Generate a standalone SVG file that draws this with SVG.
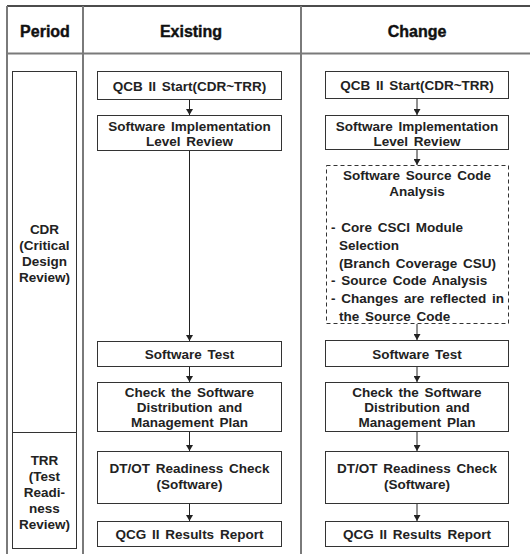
<svg xmlns="http://www.w3.org/2000/svg" width="530" height="554" viewBox="0 0 530 554">
<defs>
<style>
.grid{stroke:#7a7a7a;stroke-width:2;fill:none}
.box{fill:#fff;stroke:#333;stroke-width:1}
.dash{fill:#fff;stroke:#333;stroke-width:1;stroke-dasharray:4,3}
.hd{font-family:"Liberation Sans",Arial,sans-serif;font-weight:bold;font-size:16px;fill:#111;text-anchor:middle;stroke:#111;stroke-width:0.4}
.t{font-family:"Liberation Sans",Arial,sans-serif;font-weight:bold;font-size:13.5px;fill:#222;text-anchor:middle;word-spacing:2px}
.tl{font-family:"Liberation Sans",Arial,sans-serif;font-weight:bold;font-size:13.5px;fill:#222;word-spacing:2px}
.arr{stroke:#222;stroke-width:1;fill:none;marker-end:url(#ah)}
</style>
<marker id="ah" markerUnits="userSpaceOnUse" markerWidth="7" markerHeight="7" refX="6" refY="3.5" orient="auto">
<path d="M0,0 L6,3.5 L0,7 z" fill="#222"/>
</marker>
</defs>
<rect width="530" height="554" fill="#fff"/>
<g id="table">
<line x1="7" y1="6" x2="530" y2="6" stroke="#111" stroke-width="1.5"/>
<line class="grid" x1="7" y1="53.5" x2="530" y2="53.5"/>
<line class="grid" x1="7" y1="6" x2="7" y2="554"/>
<line class="grid" x1="83" y1="6" x2="83" y2="554"/>
<line class="grid" x1="301" y1="6" x2="301" y2="554"/>
<text class="hd" x="45" y="37">Period</text>
<text class="hd" x="191" y="37">Existing</text>
<text class="hd" x="417" y="37">Change</text>
</g>
<g id="period-cdr">
<rect class="box" x="12.5" y="71.5" width="64" height="361"/>
<text class="t" x="44.5" y="234">CDR</text>
<text class="t" x="44.5" y="250">(Critical</text>
<text class="t" x="44.5" y="266">Design</text>
<text class="t" x="44.5" y="282">Review)</text>
</g>
<g id="period-trr">
<rect class="box" x="12.5" y="432.5" width="64" height="116"/>
<text class="t" x="44.5" y="465">TRR</text>
<text class="t" x="44.5" y="481">(Test</text>
<text class="t" x="44.5" y="497">Readi-</text>
<text class="t" x="44.5" y="513">ness</text>
<text class="t" x="44.5" y="529">Review)</text>
</g>
<g id="connectors">
<line class="arr" x1="189.5" y1="100" x2="189.5" y2="115"/>
<line class="arr" x1="189.5" y1="151" x2="189.5" y2="341"/>
<line class="arr" x1="189.5" y1="367" x2="189.5" y2="382"/>
<line class="arr" x1="189.5" y1="432" x2="189.5" y2="451"/>
<line class="arr" x1="189.5" y1="504" x2="189.5" y2="521"/>
<line class="arr" x1="417" y1="99" x2="417" y2="115"/>
<line class="arr" x1="417" y1="150" x2="417" y2="165"/>
<line class="arr" x1="417" y1="324" x2="417" y2="340"/>
<line class="arr" x1="417" y1="367" x2="417" y2="382"/>
<line class="arr" x1="417" y1="432" x2="417" y2="451"/>
<line class="arr" x1="417" y1="504" x2="417" y2="521"/>
</g>
<g id="ex-qcb">
<rect class="box" x="97.5" y="71.5" width="184" height="28"/>
<text class="t" x="189.5" y="91">QCB II Start(CDR~TRR)</text>
</g>
<g id="ex-impl">
<rect class="box" x="97.5" y="115.5" width="184" height="35"/>
<text class="t" x="189.5" y="131">Software Implementation</text>
<text class="t" x="189.5" y="146">Level Review</text>
</g>
<g id="ex-test">
<rect class="box" x="97.5" y="341.5" width="184" height="25"/>
<text class="t" x="189.5" y="359">Software Test</text>
</g>
<g id="ex-check">
<rect class="box" x="97.5" y="382.5" width="184" height="49"/>
<text class="t" x="189.5" y="397">Check the Software</text>
<text class="t" x="189.5" y="412">Distribution and</text>
<text class="t" x="189.5" y="427">Management Plan</text>
</g>
<g id="ex-dtot">
<rect class="box" x="97.5" y="451.5" width="184" height="52"/>
<text class="t" x="189.5" y="473">DT/OT Readiness Check</text>
<text class="t" x="189.5" y="489">(Software)</text>
</g>
<g id="ex-qcg">
<rect class="box" x="97.5" y="521.5" width="184" height="25"/>
<text class="t" x="189.5" y="539">QCG II Results Report</text>
</g>
<g id="ch-qcb">
<rect class="box" x="325.5" y="71.5" width="183" height="27"/>
<text class="t" x="417" y="90">QCB II Start(CDR~TRR)</text>
</g>
<g id="ch-impl">
<rect class="box" x="325.5" y="115.5" width="183" height="34"/>
<text class="t" x="417" y="131">Software Implementation</text>
<text class="t" x="417" y="146">Level Review</text>
</g>
<g id="ch-source">
<rect class="dash" x="326.5" y="165.5" width="182" height="158"/>
<text class="t" x="417" y="180">Software Source Code</text>
<text class="t" x="417" y="196">Analysis</text>
<text class="tl" x="331" y="232">- Core CSCI Module</text>
<text class="tl" x="339" y="250">Selection</text>
<text class="tl" x="339" y="268">(Branch Coverage CSU)</text>
<text class="tl" x="331" y="285">- Source Code Analysis</text>
<text class="tl" x="331" y="303">- Changes are reflected in</text>
<text class="tl" x="339" y="321">the Source Code</text>
</g>
<g id="ch-test">
<rect class="box" x="325.5" y="340.5" width="183" height="26"/>
<text class="t" x="417" y="359">Software Test</text>
</g>
<g id="ch-check">
<rect class="box" x="325.5" y="382.5" width="183" height="49"/>
<text class="t" x="417" y="397">Check the Software</text>
<text class="t" x="417" y="412">Distribution and</text>
<text class="t" x="417" y="427">Management Plan</text>
</g>
<g id="ch-dtot">
<rect class="box" x="325.5" y="451.5" width="183" height="52"/>
<text class="t" x="417" y="473">DT/OT Readiness Check</text>
<text class="t" x="417" y="489">(Software)</text>
</g>
<g id="ch-qcg">
<rect class="box" x="325.5" y="521.5" width="183" height="25"/>
<text class="t" x="417" y="539">QCG II Results Report</text>
</g>
</svg>
